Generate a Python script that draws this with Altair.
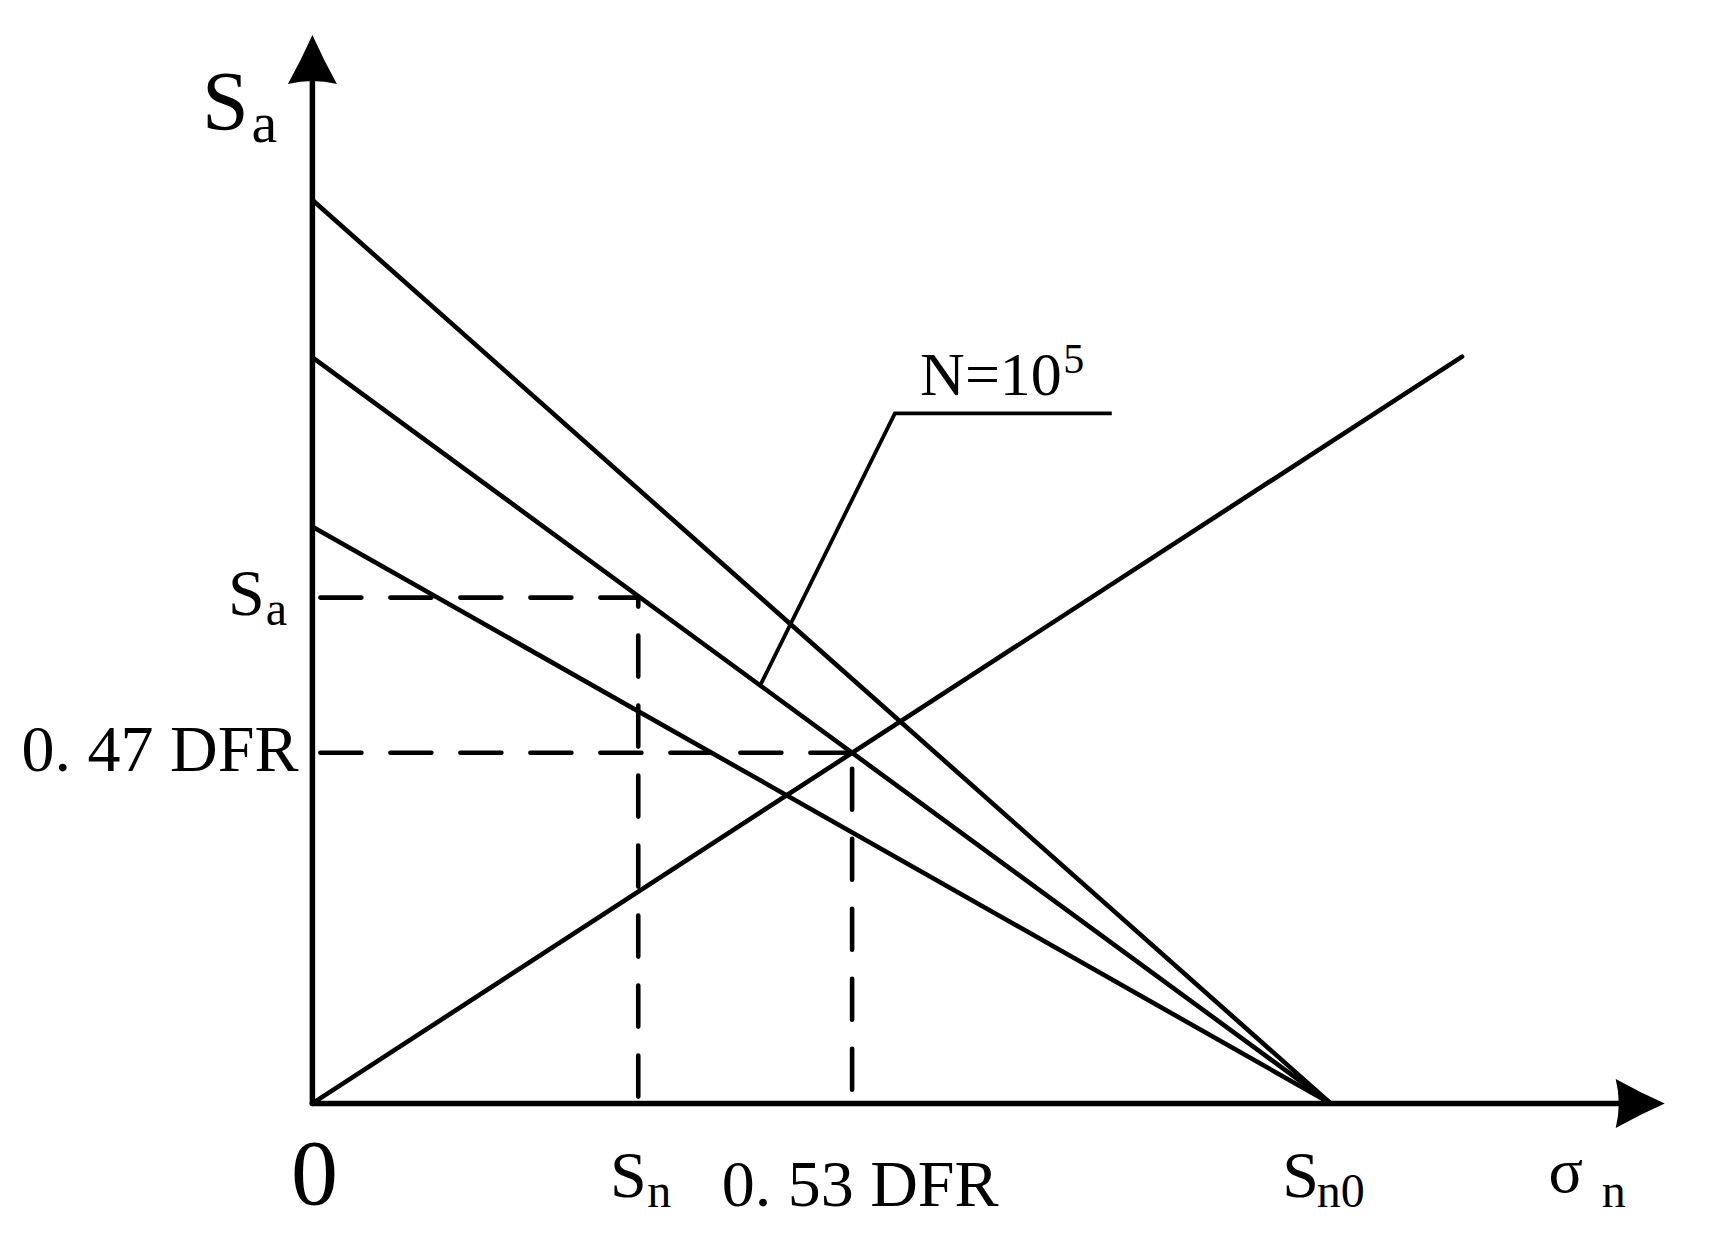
import altair as alt
import pandas as pd

# ---- chart values (x and y measured in DFR units) ----
SN0 = 1.0                          # common x-intercept of the three falling lines
DESC_INTERCEPTS = [1.211, 1.0, 0.773]   # y-intercepts of the three falling lines
RISE_X = [0.0, 1.129]              # rising load line
RISE_Y = [0.0, 1.001]
SA = 0.678                         # S_a level
SN = 0.32                          # S_n position
DFR_X = 0.53                       # 0.53 DFR
DFR_Y = 0.47                       # 0.47 DFR
LEADER_X = [0.44, 0.572, 0.785]    # leader line for N=10^5
LEADER_Y = [0.561, 0.925, 0.925]
X_TIP = 1.328                      # end of sigma_n axis
Y_TIP = 1.432                      # end of S_a axis

# ---- layout ----
W, H = 1690, 1220
X_DOMAIN = [-0.29893, 1.36070]
Y_DOMAIN = [-0.16703, 1.46836]
FONT = "Liberation Serif"

xs = alt.Scale(domain=X_DOMAIN, nice=False, zero=False)
ys = alt.Scale(domain=Y_DOMAIN, nice=False, zero=False)


def X(field):
    return alt.X(field, type="quantitative", scale=xs, axis=None)


def Y(field):
    return alt.Y(field, type="quantitative", scale=ys, axis=None)


# solid lines
rows = []
for i, b in enumerate(DESC_INTERCEPTS):
    rows.append({"line": f"d{i}", "x": 0.0, "y": b, "o": 0})
    rows.append({"line": f"d{i}", "x": SN0, "y": 0.0, "o": 1})
for j, (xv, yv) in enumerate(zip(RISE_X, RISE_Y)):
    rows.append({"line": "rise", "x": xv, "y": yv, "o": j})
lines_df = pd.DataFrame(rows)

lines = alt.Chart(lines_df).mark_line(
    color="black", strokeWidth=4.6, strokeCap="round"
).encode(x=X("x"), y=Y("y"), detail="line:N", order="o:Q")

leader_df = pd.DataFrame({"x": LEADER_X, "y": LEADER_Y, "o": list(range(len(LEADER_X)))})
leader = alt.Chart(leader_df).mark_line(
    color="black", strokeWidth=3.8, strokeCap="butt"
).encode(x=X("x"), y=Y("y"), order="o:Q")


def seg(x, x2, y, y2, **kw):
    df = pd.DataFrame({"x": [x], "x2": [x2], "y": [y], "y2": [y2]})
    return alt.Chart(df).mark_rule(color="black", **kw).encode(
        x=X("x"), x2="x2:Q", y=Y("y"), y2="y2:Q"
    )


DASH = dict(strokeWidth=4.6, strokeDash=[41, 29], strokeCap="round")
dashes = [
    seg(0.0, SN, SA, SA, strokeDashOffset=62, **DASH),
    seg(0.0, DFR_X, DFR_Y, DFR_Y, strokeDashOffset=62, **DASH),
    seg(SN, SN, SA, 0.0, strokeDashOffset=32, **DASH),
    seg(DFR_X, DFR_X, DFR_Y, 0.0, strokeDashOffset=54, **DASH),
]

axes = [
    seg(0.0, X_TIP, 0.0, 0.0, strokeWidth=5.5, strokeCap="round", x2Offset=-20),
    seg(0.0, 0.0, 0.0, Y_TIP, strokeWidth=5.5, strokeCap="round", y2Offset=20),
]

UP = "M0,0 Q0.47,1.05 1,2 Q0,1.75 -1,2 Q-0.47,1.05 0,0 Z"
RIGHT = "M0,0 Q-1.05,0.47 -2,1 Q-1.75,0 -2,-1 Q-1.05,-0.47 0,0 Z"


def arrow(x, y, shape):
    df = pd.DataFrame({"x": [x], "y": [y]})
    return alt.Chart(df).mark_point(
        shape=shape, size=2401, filled=True, color="black", opacity=1, strokeWidth=0
    ).encode(x=X("x"), y=Y("y"))


arrows = [arrow(0.0, Y_TIP, UP), arrow(X_TIP, 0.0, RIGHT)]


def label(text, x, y, dx, dy, size, align="center"):
    df = pd.DataFrame({"x": [x], "y": [y], "t": [text]})
    return alt.Chart(df).mark_text(
        font=FONT, fontSize=size, dx=dx, dy=dy, align=align,
        baseline="alphabetic", color="black"
    ).encode(x=X("x"), y=Y("y"), text="t:N")


labels = [
    label("S", 0.0, Y_TIP, -87, 95, 84),
    label("a", 0.0, Y_TIP, -48, 107, 58),
    label("S", 0.0, SA, -66, 17, 66),
    label("a", 0.0, SA, -36, 27, 48),
    label("0. 47 DFR", 0.0, DFR_Y, -14, 18, 66, "right"),
    label("0", 0.0, 0.0, 2, 101, 94),
    label("S", SN, 0.0, -10, 94, 66),
    label("n", SN, 0.0, 21, 104, 48),
    label("0. 53 DFR", DFR_X, 0.0, 8, 103, 66),
    label("S", SN0, 0.0, -30, 94, 66),
    label("n0", SN0, 0.0, 10, 104, 48),
    label("σ", X_TIP, 0.0, -99, 89, 64),
    label("n", X_TIP, 0.0, -51, 104, 48),
    label("N=10", LEADER_X[1], LEADER_Y[1], 167, -18, 62, "right"),
    label("5", LEADER_X[1], LEADER_Y[1], 179, -40, 42),
]

chart = alt.layer(lines, leader, *dashes, *axes, *arrows, *labels).properties(
    width=W, height=H, padding=0, autosize="none", background="white"
).configure_view(stroke=None)

chart.save("out.html", embed_options={"renderer": "svg", "actions": False})
